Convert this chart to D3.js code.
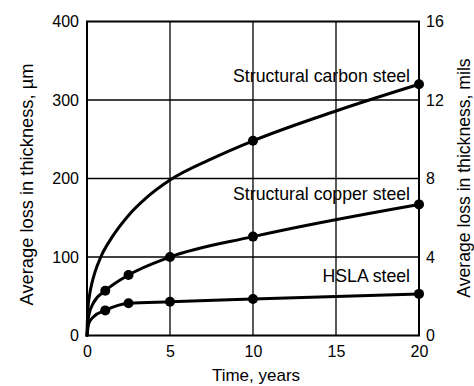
<!DOCTYPE html>
<html>
<head>
<meta charset="utf-8">
<script src="https://cdn.jsdelivr.net/npm/d3@7"></script>
<style>
  html, body { margin: 0; padding: 0; background: #fff; }
  svg text { font-family: "Liberation Sans", Arial, Helvetica, sans-serif; fill: #000; }
</style>
</head>
<body>
<svg id="chart" width="474" height="386"></svg>
<script>
// Time axis ticks (years) and thickness ticks (µm, mils)
const yearTicks = [0, 5, 10, 15, 20];
const micronTicks = [0, 100, 200, 300, 400];
const milTicks = [0, 4, 8, 12, 16];

// Structural carbon steel: traced curve and measured points
const carbonYears = [0, 0.05, 0.15, 0.3, 0.5, 0.83, 1.5, 2.5, 3.5, 5, 7.5, 10, 15, 20];
const carbonLoss  = [0, 33, 51, 67, 82, 100, 125, 153, 174, 198, 225, 248, 286, 320];
const carbonMeasured = [10, 20];

// Structural copper steel
const copperYears = [0, 0.1, 0.4, 1.1, 2.5, 5, 10, 20];
const copperLoss  = [0, 25, 42, 57, 77, 100, 126, 167];
const copperMeasured = [1.1, 2.5, 5, 10, 20];

// HSLA steel
const hslaYears = [0, 0.1, 0.4, 1.1, 2.5, 5, 10, 20];
const hslaLoss  = [0, 15, 24, 32, 41, 43, 46.5, 53];
const hslaMeasured = [1.1, 2.5, 5, 10, 20];

const seriesNames = ["Structural carbon steel", "Structural copper steel", "HSLA steel"];

const svg = d3.select("#chart");
const plotLeft = 87, plotRight = 419, plotTop = 21.5, plotBottom = 335.5;

const x = d3.scaleLinear().domain([0, 20]).range([plotLeft, plotRight]);
const y = d3.scaleLinear().domain([0, 400]).range([plotBottom, plotTop]);
const y2 = d3.scaleLinear().domain([0, 16]).range([plotBottom, plotTop]);

// grid lines
const grid = svg.append("g").attr("stroke", "#000").attr("stroke-width", 1.3);
grid.selectAll("line.v").data(yearTicks.slice(1, -1)).join("line").attr("class", "v")
  .attr("x1", d => x(d)).attr("x2", d => x(d)).attr("y1", plotTop).attr("y2", plotBottom);
grid.selectAll("line.h").data(micronTicks.slice(1, -1)).join("line").attr("class", "h")
  .attr("x1", plotLeft).attr("x2", plotRight).attr("y1", d => y(d)).attr("y2", d => y(d));

// frame
svg.append("rect").attr("x", plotLeft).attr("y", plotTop)
  .attr("width", plotRight - plotLeft).attr("height", plotBottom - plotTop)
  .attr("fill", "none").attr("stroke", "#000").attr("stroke-width", 2);

// axes (labels only, the frame carries the lines)
const fs = 16;
svg.append("g").attr("transform", `translate(0,${plotBottom})`)
  .call(d3.axisBottom(x).tickValues(yearTicks).tickSize(0).tickPadding(10))
  .call(g => g.select(".domain").remove());

svg.append("g").attr("transform", `translate(${plotLeft},0)`)
  .call(d3.axisLeft(y).tickValues(micronTicks).tickSize(0).tickPadding(8))
  .call(g => g.select(".domain").remove());

svg.append("g").attr("transform", `translate(${plotRight},0)`)
  .call(d3.axisRight(y2).tickValues(milTicks).tickSize(0).tickPadding(7))
  .call(g => g.select(".domain").remove());

svg.selectAll(".tick text")
  .attr("font-family", "Liberation Sans, Arial, sans-serif")
  .attr("font-size", fs).attr("fill", "#000");

// axis titles
svg.append("text").attr("x", 256).attr("y", 381)
  .attr("text-anchor", "middle").attr("font-size", 17).text("Time, years");
svg.append("text").attr("transform", "translate(33,184.5) rotate(-90)")
  .attr("text-anchor", "middle").attr("font-size", 18.3).text("Average loss in thickness, µm");
svg.append("text").attr("transform", "translate(470,178) rotate(-90)")
  .attr("text-anchor", "middle").attr("font-size", 17.6).text("Average loss in thickness, mils");

// curves and measured points
const line = d3.line().x(d => x(d[0])).y(d => y(d[1])).curve(d3.curveMonotoneX);
const series = [
  { years: carbonYears, loss: carbonLoss, measured: carbonMeasured },
  { years: copperYears, loss: copperLoss, measured: copperMeasured },
  { years: hslaYears, loss: hslaLoss, measured: hslaMeasured }
];
series.forEach(s => {
  const pts = s.years.map((t, i) => [t, s.loss[i]]);
  svg.append("path").attr("d", line(pts))
    .attr("fill", "none").attr("stroke", "#000").attr("stroke-width", 3)
    .attr("stroke-linejoin", "round").attr("stroke-linecap", "round");
  const marks = pts.filter(p => s.measured.includes(p[0]));
  svg.append("g").selectAll("circle").data(marks).join("circle")
    .attr("cx", d => x(d[0])).attr("cy", d => y(d[1])).attr("r", 5).attr("fill", "#000");
});

// series labels, right-aligned inside the plot, set above each curve's end
const labelGap = [2.5, 4.6, 11.6];
series.forEach((s, i) => {
  const last = s.loss[s.loss.length - 1];
  svg.append("text").attr("x", 410).attr("y", y(last) - labelGap[i])
    .attr("text-anchor", "end").attr("font-size", 17.7)
    .text(seriesNames[i]);
});
</script>
</body>
</html>
